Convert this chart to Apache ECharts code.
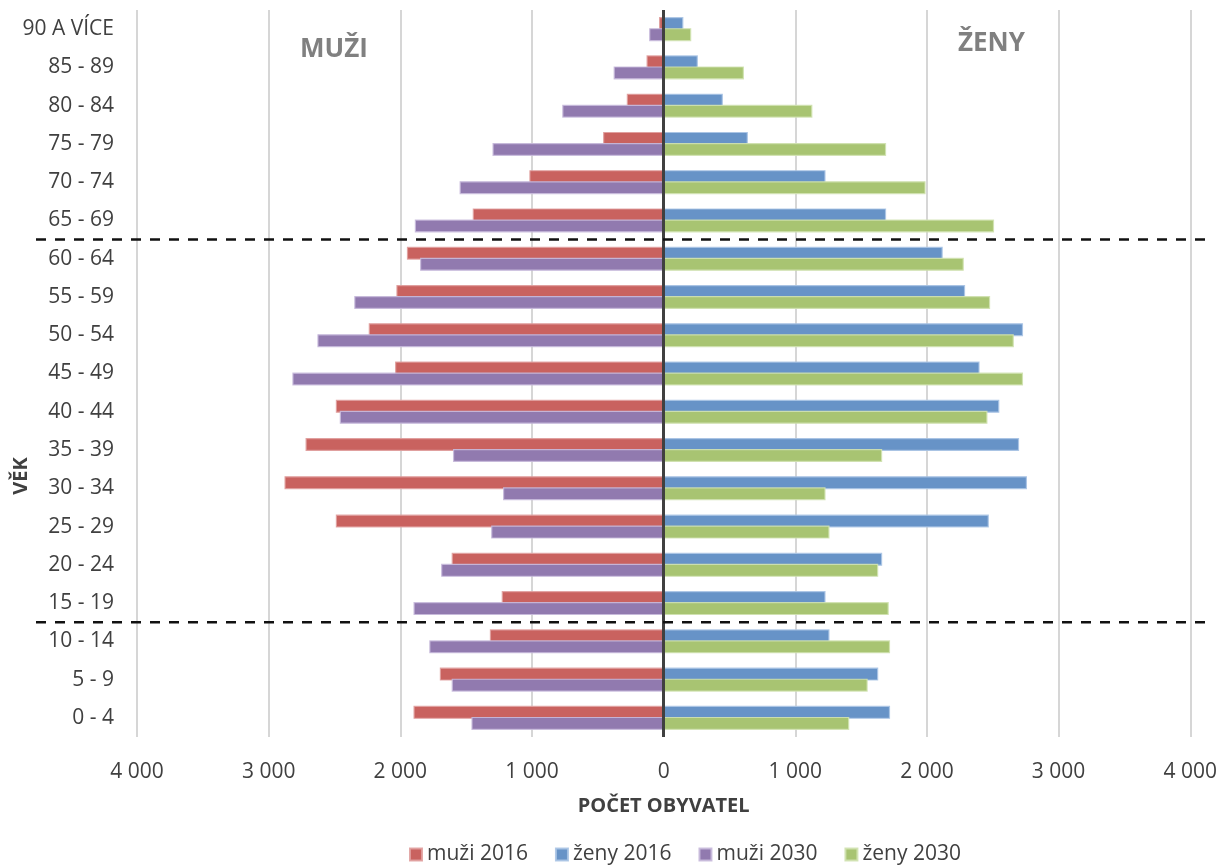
<!DOCTYPE html>
<html>
<head>
<meta charset="utf-8">
<script src="https://cdn.jsdelivr.net/npm/echarts@6/dist/echarts.min.js"></script>
<style>
html,body{margin:0;padding:0;background:#fff;}
#chart{width:1220px;height:865px;}
</style>
</head>
<body>
<div id="chart"></div>
<script>
// Categories bottom-up (ECharts category y-axis starts at the bottom)
const categories = ['0 - 4','5 - 9','10 - 14','15 - 19','20 - 24','25 - 29','30 - 34','35 - 39','40 - 44','45 - 49','50 - 54','55 - 59','60 - 64','65 - 69','70 - 74','75 - 79','80 - 84','85 - 89','90 A VÍCE'];
const muzi2016 = [1900, 1700, 1320, 1230, 1610, 2490, 2880, 2720, 2490, 2040, 2240, 2030, 1950, 1450, 1020, 460, 280, 130, 35];
const zeny2016 = [1720, 1630, 1260, 1230, 1660, 2470, 2760, 2700, 2550, 2400, 2730, 2290, 2120, 1690, 1230, 640, 450, 260, 150];
const muzi2030 = [1460, 1610, 1780, 1900, 1690, 1310, 1220, 1600, 2460, 2820, 2630, 2350, 1850, 1890, 1550, 1300, 770, 380, 110];
const zeny2030 = [1410, 1550, 1720, 1710, 1630, 1260, 1230, 1660, 2460, 2730, 2660, 2480, 2280, 2510, 1990, 1690, 1130, 610, 210];
const seriesNames = ['muži 2016', 'ženy 2016', 'muži 2030', 'ženy 2030'];
const xTicks = { min: -4000, max: 4000, interval: 1000 };
const sideTitles = ['MUŽI', 'ŽENY'];
const axisTitles = { x: 'POČET OBYVATEL', y: 'VĚK' };
// boundaries (dashed lines) between these category pairs
const boundaries = [['60 - 64', '65 - 69'], ['10 - 14', '15 - 19']];

const FONT = 'Open Sans';
const TXT = '#404040';

function fmt(v) {
  const a = Math.abs(v);
  return String(a).replace(/\B(?=(\d{3})+(?!\d))/g, ' ');
}

const colors = ['#C9625F', '#6793C7', '#917AAF', '#A8C472'];
const borders = ['rgba(224,160,158,0.9)', 'rgba(170,196,228,0.9)', 'rgba(200,186,220,0.9)', 'rgba(208,226,176,0.9)'];

function barSeries(i, data, stack) {
  return {
    name: seriesNames[i],
    type: 'bar',
    stack: stack,
    data: data,
    barWidth: 13,
    barGap: '-15%',
    itemStyle: { color: colors[i], borderColor: borders[i], borderWidth: 1.2 },
    emphasis: { disabled: true },
    animation: false
  };
}

const chart = echarts.init(document.getElementById('chart'), null, { renderer: 'canvas' });

const s0 = barSeries(0, muzi2016.map(v => -v), 'y2016');
s0.markLine = {
  silent: true,
  symbol: 'none',
  label: { show: false },
  lineStyle: { color: '#404040', width: 3, type: 'solid' },
  data: [{ xAxis: 0 }],
  animation: false
};

const option = {
  animation: false,
  textStyle: { fontFamily: FONT },
  grid: { left: 137, right: 29, top: 10, bottom: 128, containLabel: false },
  xAxis: {
    type: 'value',
    min: xTicks.min, max: xTicks.max, interval: xTicks.interval,
    axisLine: { show: false },
    axisTick: { show: false },
    splitLine: { show: true, lineStyle: { color: '#c8c8c8', width: 1.5 } },
    axisLabel: { formatter: fmt, color: TXT, fontSize: 21, fontFamily: FONT, margin: 25 },
    name: axisTitles.x,
    nameLocation: 'middle',
    nameGap: 59,
    nameTextStyle: { color: TXT, fontSize: 20, fontWeight: 'bold', fontFamily: FONT }
  },
  yAxis: {
    type: 'category',
    data: categories,
    axisLine: { show: false },
    axisTick: { show: false },
    splitLine: { show: false },
    axisLabel: { color: TXT, fontSize: 21, fontFamily: FONT, margin: 23, padding: [6, 0, 0, 0] }
  },
  legend: {
    data: seriesNames,
    left: 404,
    top: 839,
    icon: 'rect',
    itemWidth: 12,
    itemHeight: 12,
    itemGap: 27,
    textStyle: { color: TXT, fontSize: 21, fontFamily: FONT }
  },
  series: [
    s0,
    barSeries(1, zeny2016, 'y2016'),
    barSeries(2, muzi2030.map(v => -v), 'y2030'),
    barSeries(3, zeny2030, 'y2030')
  ]
};

chart.setOption(option);

// decorations: dashed boundary lines and titles
const graphics = [];
boundaries.forEach(function (pair) {
  const y1 = chart.convertToPixel({ yAxisIndex: 0 }, pair[0]);
  const y2 = chart.convertToPixel({ yAxisIndex: 0 }, pair[1]);
  const y = (y1 + y2) / 2;
  graphics.push({
    type: 'line',
    silent: true,
    z: 100,
    shape: { x1: 36, y1: y, x2: 1206, y2: y },
    style: { stroke: '#111', lineWidth: 2.5, lineDash: [10, 9] }
  });
});
graphics.push({
  type: 'text', left: 300, top: 37, silent: true,
  style: { text: sideTitles[0], fill: '#808080', font: 'bold 26px "Open Sans"' }
});
graphics.push({
  type: 'text', left: 958, top: 31, silent: true,
  style: { text: sideTitles[1], fill: '#808080', font: 'bold 26px "Open Sans"' }
});
graphics.push({
  type: 'text', x: 21, y: 476, rotation: Math.PI / 2, silent: true,
  style: { text: axisTitles.y, fill: TXT, font: 'bold 20px "Open Sans"', textAlign: 'center', textVerticalAlign: 'middle' }
});
chart.setOption({ graphic: graphics });
</script>
</body>
</html>
